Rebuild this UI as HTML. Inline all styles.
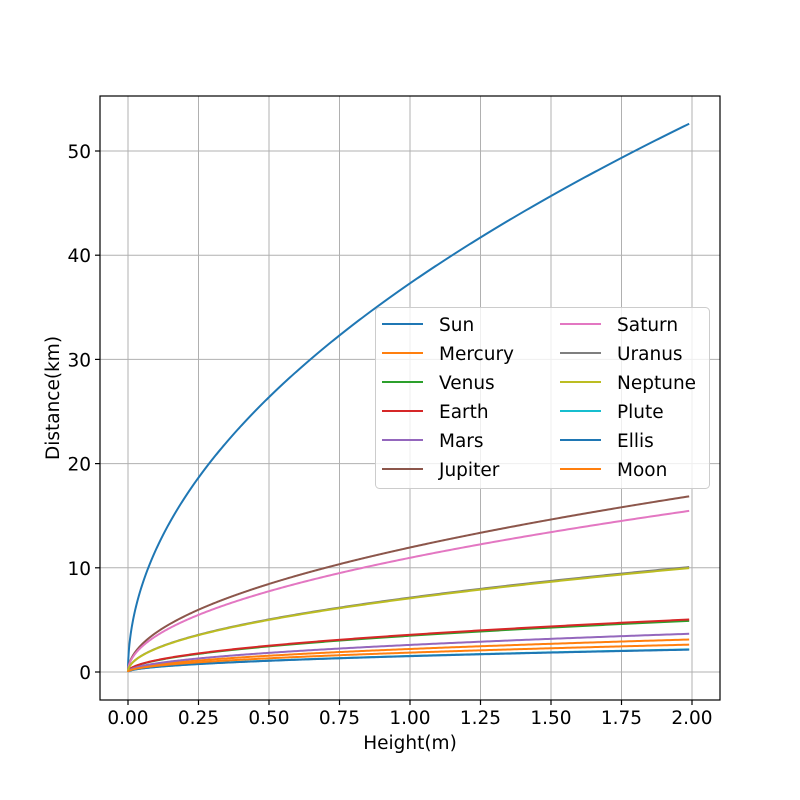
<!DOCTYPE html>
<html><head><meta charset="utf-8"><style>body{margin:0;background:#fff}svg{display:block}text{font-family:"DejaVu Sans","Liberation Sans",sans-serif;font-size:18.5px;fill:#000}</style></head>
<body>
<svg id="s" width="800" height="800" xmlns="http://www.w3.org/2000/svg">
<rect width="800" height="800" fill="#fff"/>
<g id="grid" stroke="#b0b0b0" stroke-width="1"></g>
<g id="curves" fill="none" stroke-width="2"></g>
<rect x="100" y="96" width="620" height="604" fill="none" stroke="#000" stroke-width="1.2"/>
<g id="ticks" stroke="#000" stroke-width="1.2"></g>
<g id="labels"></g>
<text x="410" y="749" text-anchor="middle">Height(m)</text>
<text transform="translate(59,398) rotate(-90)" text-anchor="middle">Distance(km)</text>
<rect x="375.5" y="307.5" width="334" height="181" rx="4" fill="#fff" fill-opacity="0.8" stroke="#ccc"/>
<g id="legend"></g>
</svg>
<script>
var ns="http://www.w3.org/2000/svg";
function el(p,t,a,txt){var e=document.createElementNS(ns,t);for(var k in a)e.setAttribute(k,a[k]);if(txt)e.textContent=txt;document.getElementById(p).appendChild(e);}
function X(h){return 128+282*h;}function Y(d){return 672-10.42*d;}
for(var i=0;i<=8;i++){var x=X(i*0.25);el('grid','line',{x1:x,x2:x,y1:96,y2:700});el('ticks','line',{x1:x,x2:x,y1:700,y2:705});el('labels','text',{x:x,y:724,'text-anchor':'middle'},(i*0.25).toFixed(2));}
for(var j=0;j<=5;j++){var y=Y(j*10);el('grid','line',{x1:100,x2:720,y1:y,y2:y});el('ticks','line',{x1:95,x2:100,y1:y,y2:y});el('labels','text',{x:91,y:y+7,'text-anchor':'end'},String(j*10));}
var S=[["Sun",37.3,"#1f77b4"],["Mercury",2.21,"#ff7f0e"],["Venus",3.48,"#2ca02c"],["Earth",3.57,"#d62728"],["Mars",2.60,"#9467bd"],["Jupiter",11.95,"#8c564b"],["Saturn",10.96,"#e377c2"],["Uranus",7.14,"#7f7f7f"],["Neptune",7.07,"#bcbd22"],["Plute",1.54,"#17becf"],["Ellis",1.52,"#1f77b4"],["Moon",1.86,"#ff7f0e"]];
S.forEach(function(s,n){var d="M"+X(0)+","+Y(0);for(var k=1;k<=400;k++){var h=1.99*Math.pow(k/400,2);d+=" L"+X(h).toFixed(2)+","+Y(s[1]*Math.sqrt(h)).toFixed(2);}
el('curves','path',{d:d,stroke:s[2]});
var c=n<6?0:1,r=n%6,ly=324+29*r,lx=c?560:382;el('legend','line',{x1:lx,x2:lx+41,y1:ly,y2:ly,stroke:s[2],'stroke-width':2});el('legend','text',{x:c?617:439,y:ly+7},s[0]);});
</script>
</body></html>
